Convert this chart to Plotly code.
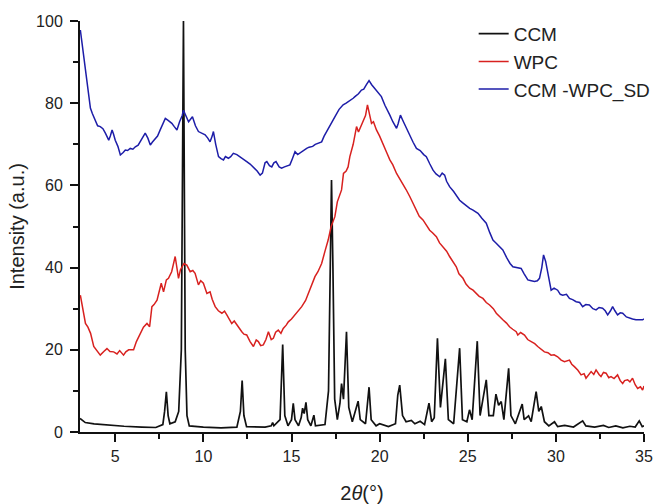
import plotly.graph_objects as go

# ---- CCM (crystalline curcumin) ----
ccm_x = [3.0, 3.3, 3.8, 4.5, 5.5, 6.5, 7.3, 7.7, 7.8, 7.9, 8.0, 8.1, 8.4, 8.6, 8.75, 8.87, 8.97, 9.07, 9.2,
         10.0, 11.0, 11.9, 12.1, 12.2, 12.3, 12.45, 13.5, 13.85, 13.93, 14.0, 14.35, 14.5, 14.62, 14.8,
         15.0, 15.1, 15.2, 15.4, 15.55, 15.63, 15.72, 15.82, 15.92, 16.1, 16.27, 16.36, 16.9, 17.1, 17.2,
         17.27, 17.35, 17.45, 17.6, 17.75, 17.84, 17.95, 18.12, 18.25, 18.45, 18.78, 18.9, 19.2, 19.4,
         19.52, 19.8, 20.0, 20.5, 20.9, 21.03, 21.14, 21.3, 21.5, 21.8, 22.0, 22.3, 22.55, 22.8, 22.95,
         23.1, 23.28, 23.45, 23.73, 23.9, 24.2, 24.54, 24.7, 24.95, 25.1, 25.25, 25.54, 25.7, 26.05, 26.2,
         26.45, 26.6, 26.75, 26.9, 27.05, 27.32, 27.45, 27.7, 28.09, 28.2, 28.45, 28.6, 28.88, 29.03,
         29.17, 29.35, 29.6, 29.92, 30.1, 30.5, 31.0, 31.52, 31.7, 32.2, 32.7, 33.0, 33.4, 33.8, 34.2,
         34.5, 34.73, 34.9, 35.0]
ccm_y = [3.3, 2.3, 2.0, 1.7, 1.4, 1.2, 1.1, 1.8, 5, 9.8, 4, 2, 2.5, 5, 20, 100, 20, 4, 1.5,
         1.2, 1.0, 1.2, 5, 12.5, 4, 1.3, 1.2, 1.5, 2.3, 1.5, 3, 21.3, 4, 1.5,
         3, 7, 3, 1.5, 3.5, 5.8, 4.5, 7.2, 3, 1.5, 4.1, 1.5, 1.8, 10, 40,
         61.3, 40, 8, 3, 7, 11.8, 8, 24.4, 6, 2.5, 7.5, 3, 2, 10.9,
         3, 1.5, 2, 1.3, 2, 9, 11.4, 4, 2.5, 2.8, 2, 2.6, 1.8, 7, 2.5,
         3.5, 22.8, 6, 17.8, 3, 2, 20.4, 3, 2.5, 5.4, 3, 22.1, 4, 12.7, 4,
         4, 9.2, 6.5, 7.4, 3, 15.5, 4, 2, 6.8, 3, 3.9, 2.5, 9.8, 5,
         6.2, 2.5, 1.5, 2.5, 1.3, 1.6, 1.2, 2.7, 1.5, 1.2, 1.6, 1.1, 1.5, 1.0, 1.4,
         1.2, 2.7, 1.3, 1.5]

# ---- WPC ----
wpc_x = [3.02, 3.31, 3.45, 3.6, 3.78, 3.95, 4.15, 4.35, 4.53, 4.7, 4.91, 5.1, 5.25, 5.47, 5.6, 5.76,
         6.04, 6.2, 6.42, 6.6, 6.8, 6.95, 7.08, 7.2, 7.37, 7.5, 7.61, 7.74, 7.9, 8.02, 8.2, 8.4, 8.5,
         8.59, 8.7, 8.78, 8.9, 9.06, 9.25, 9.4, 9.53, 9.72, 9.85, 10.0, 10.2, 10.38, 10.5, 10.67, 10.85,
         11.05, 11.2, 11.33, 11.61, 11.75, 11.9, 12.05, 12.18, 12.3, 12.46, 12.65, 12.84, 13.0, 13.12,
         13.25, 13.4, 13.55, 13.69, 13.85, 13.97, 14.1, 14.25, 14.4, 14.53, 14.7, 14.82, 15.0, 15.2,
         15.4, 15.58, 15.8, 15.95, 16.15, 16.33, 16.5, 16.71, 16.9, 17.08, 17.25, 17.46, 17.6, 17.84,
         17.95, 18.1, 18.21, 18.31, 18.5, 18.69, 18.8, 18.97, 19.1, 19.2, 19.31, 19.42, 19.54, 19.65,
         19.82, 20.0, 20.2, 20.4, 20.58, 20.75, 20.96, 21.15, 21.33, 21.5, 21.71, 21.9, 22.09, 22.25,
         22.46, 22.65, 22.84, 23.0, 23.22, 23.4, 23.59, 23.8, 23.97, 24.15, 24.35, 24.5, 24.73, 24.9,
         25.11, 25.3, 25.49, 25.65, 25.86, 26.05, 26.24, 26.45, 26.62, 26.8, 26.99, 27.2, 27.37, 27.55,
         27.75, 27.84, 28.0, 28.22, 28.4, 28.6, 28.8, 28.97, 29.15, 29.35, 29.55, 29.73, 29.9, 30.1,
         30.3, 30.49, 30.77, 30.9, 31.05, 31.25, 31.43, 31.6, 31.71, 31.85, 32.0, 32.15, 32.28, 32.45,
         32.56, 32.7, 32.85, 33.0, 33.13, 33.3, 33.5, 33.65, 33.79, 33.9, 34.07, 34.2, 34.35, 34.5,
         34.64, 34.8, 34.92, 35.0]
wpc_y = [33.3, 26.4, 25.5, 24, 20.8, 19.8, 18.7, 19.6, 20.3, 19.6, 19.5, 19.0, 19.8, 18.7, 19.5, 20,
         20, 22, 24, 25.5, 26.4, 25.6, 30.5, 31, 32.1, 34, 36.2, 34.1, 37, 37.4, 39, 42.7, 40,
         37.4, 39.5, 40.2, 41, 40.6, 39, 39.3, 38.6, 35.8, 36.8, 36.2, 33.7, 34.1, 32.3, 30.5, 29.5,
         28.9, 29.4, 28.5, 26.4, 27, 26, 25.2, 24.4, 23.8, 23.6, 22, 20.8, 22.4, 22,
         21, 21.2, 22.5, 24.4, 22.5, 22.8, 24.3, 24.8, 24, 25.2, 26, 26.8, 27.5, 28.5,
         29.5, 30.5, 32, 33.7, 36, 37.8, 39, 41, 44, 46.7, 50, 52.4, 56, 58.9,
         62.9, 63.5, 64.5, 67, 70, 74.3, 73, 74.7, 76, 77, 79.6, 77, 75.1, 75.5,
         73.5, 72, 70.2, 68, 66.2, 65, 62.9, 61.5, 60.5, 59, 57.3, 55.5, 54, 52.5,
         51.6, 50.5, 49.1, 48.5, 47.5, 46, 45.1, 44, 42.7, 41.5, 40.2, 38.5, 37.4, 36,
         35, 34.5, 33.7, 33, 32.5, 31.5, 30.9, 30, 28.9, 28, 27.3, 26.5, 25.6, 25,
         24.4, 23.6, 24.2, 23.6, 22.5, 22, 21.5, 20.8, 20.2, 19.5, 19.3, 18.7, 18.8, 18.3,
         17.5, 17.1, 17.5, 16.5, 15.9, 15, 13.9, 14.2, 13.1, 14, 14.7, 14, 15.1, 14,
         13.5, 14.5, 14.3, 13.2, 13.5, 13, 13.9, 12.5, 11.8, 12.5, 12.7, 12.2, 13.1, 11.5,
         10.6, 11, 10.2, 11.2]

# ---- CCM-WPC_SD ----
sd_x = [3.02, 3.1, 3.21, 3.3, 3.4, 3.5, 3.59, 3.7, 3.87, 4.0, 4.15, 4.3, 4.44, 4.63, 4.72, 4.82, 4.9,
        5.0, 5.15, 5.29, 5.45, 5.57, 5.7, 5.85, 6.0, 6.14, 6.3, 6.42, 6.55, 6.7, 6.85, 6.99, 7.1, 7.27,
        7.4, 7.55, 7.7, 7.84, 8.0, 8.21, 8.35, 8.5, 8.65, 8.8, 8.87, 9.0, 9.16, 9.38, 9.55, 9.72, 9.9,
        10.1, 10.25, 10.38, 10.5, 10.57, 10.7, 10.86, 11.0, 11.14, 11.25, 11.42, 11.55, 11.7, 11.9,
        12.08, 12.25, 12.46, 12.65, 12.84, 13.05, 13.22, 13.35, 13.5, 13.6, 13.75, 13.88, 14.0, 14.12,
        14.3, 14.44, 14.6, 14.75, 14.91, 15.05, 15.2, 15.35, 15.5, 15.7, 15.86, 16.0, 16.2, 16.35,
        16.52, 16.71, 16.85, 17.08, 17.3, 17.5, 17.7, 17.93, 18.1, 18.3, 18.5, 18.6, 18.8, 18.97, 19.1,
        19.25, 19.4, 19.55, 19.73, 19.9, 20.1, 20.3, 20.45, 20.58, 20.75, 20.96, 21.05, 21.18, 21.35,
        21.52, 21.7, 21.9, 22.09, 22.3, 22.5, 22.65, 22.85, 23.03, 23.2, 23.41, 23.55, 23.69, 23.8,
        23.97, 24.2, 24.35, 24.54, 24.7, 24.9, 25.11, 25.3, 25.45, 25.58, 25.8, 26.05, 26.25, 26.43,
        26.6, 26.8, 26.99, 27.2, 27.4, 27.56, 27.8, 28.03, 28.2, 28.41, 28.6, 28.79, 28.95, 29.07,
        29.2, 29.3, 29.42, 29.54, 29.65, 29.73, 29.9, 30.1, 30.25, 30.39, 30.6, 30.77, 30.95, 31.15,
        31.35, 31.52, 31.7, 31.9, 32.1, 32.28, 32.45, 32.65, 32.8, 32.94, 33.1, 33.22, 33.35, 33.5,
        33.65, 33.79, 34.0, 34.17, 34.35, 34.54, 34.75, 34.92, 35.0]
sd_y = [97.8, 95, 91.3, 87.5, 84, 81, 78.8, 77.5, 75.9, 74.5, 74.3, 73.8, 72.7, 71, 72, 73.5, 72.5,
        71, 69.5, 67.4, 68, 68.6, 68.5, 69, 68.8, 69.4, 69.8, 70.6, 71.5, 72.7, 71.5, 69.8, 70.5, 71.5,
        72, 73.5, 75, 76.3, 75.8, 75.1, 74.3, 73.5, 75.5, 77, 78.3, 77, 75.5, 76.7, 74.5, 73.1, 72.7,
        72.3, 71.5, 70.6, 72, 73.1, 70, 67, 66.5, 66.2, 67, 66.6, 67, 67.8, 67.5,
        67, 66.5, 65.8, 65.2, 64.5, 63.5, 62.5, 63, 65.5, 65.8, 64.8, 64.5, 65.5, 65.8,
        64.5, 64.2, 64.5, 64.8, 65, 66.5, 68.2, 67.5, 68, 68.5, 69, 69.3, 69.5, 70,
        70.2, 70.6, 72, 73.9, 75.5, 77, 78.5, 79.6, 80, 80.5, 81.2, 81.6, 82.3, 83.2, 83.4,
        84.5, 85.5, 84.5, 83.6, 82.5, 81.6, 79.5, 78, 77.1, 75.5, 73.9, 75, 77.1, 75.5,
        73.9, 72, 70.5, 69, 68.5, 67.5, 67, 65.2, 63.7, 62.8, 62.1, 63, 62.5, 61,
        59.7, 58.5, 57.5, 56.4, 55.8, 55, 54.4, 54, 53.5, 53.2, 52, 50.8, 48.5, 46.7,
        46, 45, 44.3, 42.5, 41, 40.2, 40, 39.8, 38.5, 37, 36.8, 36.6, 36.8, 37.4,
        40, 43.1, 41.5, 38.6, 35.5, 34.5, 35, 34.5, 33.5, 33.3, 33.5, 32.5, 32.2, 31.7,
        31.5, 30.5, 31, 30.9, 30, 29.7, 30.3, 30.1, 29.5, 28.5, 29.5, 30.5, 29.5, 28.5,
        29, 28.9, 28, 27.7, 27.5, 27.3, 27.2, 27.3, 27.5]

x_ticks = [5, 10, 15, 20, 25, 30, 35]
y_ticks = [0, 20, 40, 60, 80, 100]

FONT = "Arial, 'Liberation Sans', sans-serif"

fig = go.Figure()
fig.add_trace(go.Scatter(x=ccm_x, y=ccm_y, mode="lines", name="CCM",
                         line=dict(color="#111111", width=1.7), cliponaxis=False))
fig.add_trace(go.Scatter(x=wpc_x, y=wpc_y, mode="lines", name="WPC",
                         line=dict(color="#d8211f", width=1.5), cliponaxis=False))
fig.add_trace(go.Scatter(x=sd_x, y=sd_y, mode="lines", name="CCM -WPC_SD",
                         line=dict(color="#1d1da8", width=1.5), cliponaxis=False))

fig.update_layout(
    width=655, height=504,
    margin=dict(l=80, r=11, t=21, b=72, autoexpand=False),
    paper_bgcolor="white", plot_bgcolor="white",
    font=dict(family=FONT, color="#222222", size=16),
    showlegend=True,
    legend=dict(x=0.698, xanchor="left", y=1.015, yanchor="top",
                bgcolor="rgba(0,0,0,0)", font=dict(size=19, color="#222222"),
                tracegroupgap=0, itemwidth=30),
    xaxis=dict(range=[3, 35], tickvals=x_ticks, showgrid=False, zeroline=False,
               showline=True, linecolor="#111111", linewidth=2,
               ticks="outside", ticklen=8, tickwidth=1.5, tickcolor="#111111",
               tickfont=dict(size=16), ticklabelstandoff=1,
               minor=dict(ticks="outside", ticklen=5, tickwidth=1.5, tickcolor="#111111",
                          dtick=2.5, tick0=0, showgrid=False),
               title=dict(text="2<i>θ</i>(°)", font=dict(size=20), standoff=22)),
    yaxis=dict(range=[0, 100], tickvals=y_ticks, showgrid=False, zeroline=False,
               showline=True, linecolor="#111111", linewidth=2,
               ticks="outside", ticklen=8, tickwidth=1.5, tickcolor="#111111",
               tickfont=dict(size=16), ticklabelstandoff=4,
               minor=dict(ticks="outside", ticklen=5, tickwidth=1.5, tickcolor="#111111",
                          dtick=10, tick0=0, showgrid=False),
               title=dict(text="Intensity (a.u.)", font=dict(size=20), standoff=6)),
)

# remove the default 8px page margin so the 655x504 figure fills the window exactly
fig.write_html("out.html",
               config={"displayModeBar": False},
               post_script="document.body.style.margin='0px';document.body.style.overflow='hidden';")
